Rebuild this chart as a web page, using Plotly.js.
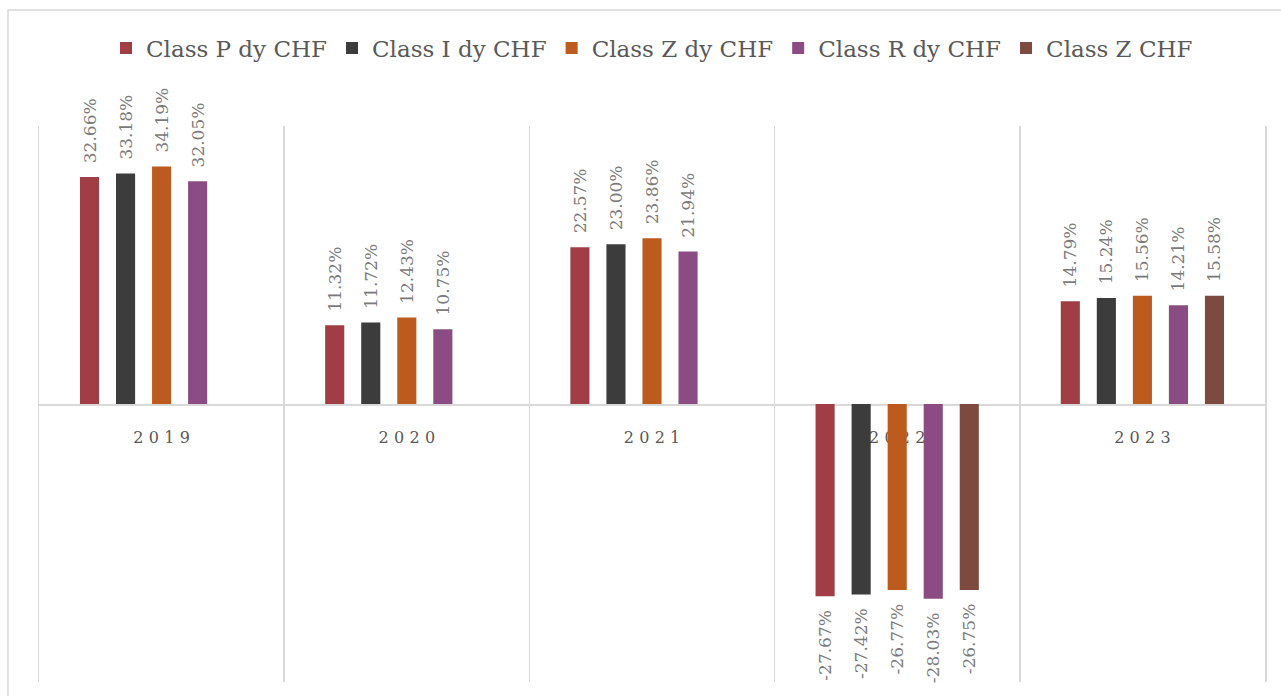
<!DOCTYPE html>
<html>
<head>
<meta charset="utf-8">
<script src="https://cdn.plot.ly/plotly-3.0.1.min.js"></script>
<style>html,body{margin:0;padding:0;background:#fff;}#chart{width:1281px;height:696px;}</style>
</head>
<body>
<div id="chart"></div>
<script>
const years = ["2019", "2020", "2021", "2022", "2023"];
const seriesNames = ["Class P dy CHF", "Class I dy CHF", "Class Z dy CHF", "Class R dy CHF", "Class Z CHF"];
const classP = [32.66, 11.32, 22.57, -27.67, 14.79];
const classI = [33.18, 11.72, 23.00, -27.42, 15.24];
const classZ = [34.19, 12.43, 23.86, -26.77, 15.56];
const classR = [32.05, 10.75, 21.94, -28.03, 14.21];
const classZCHF = [null, null, null, -26.75, 15.58];
const colors = ["#A13D45", "#3C3C3C", "#BD5A1E", "#8B4C84", "#7D4A40"];

const FONT = "DejaVu Serif";
const allSeries = [classP, classI, classZ, classR, classZCHF];

function labels(vals) {
  return vals.map(v => {
    if (v === null) return "";
    const s = v.toFixed(2) + "%";
    return v >= 0 ? "\u00a0\u00a0" + s : s + "\u00a0\u00a0";
  });
}

const traces = allSeries.map((vals, i) => ({
  type: "bar",
  name: seriesNames[i],
  x: years,
  y: vals,
  marker: {color: colors[i]},
  text: labels(vals),
  textposition: "outside",
  textangle: -90,
  constraintext: "none",
  cliponaxis: false,
  textfont: {family: FONT, size: 17, color: "#7a7a7a"},
  outsidetextfont: {family: FONT, size: 17, color: "#7a7a7a"},
  hoverinfo: "skip"
}));

const layout = {
  width: 1281,
  height: 696,
  margin: {l: 39, r: 16, t: 126, b: 14},
  paper_bgcolor: "#ffffff",
  plot_bgcolor: "rgba(0,0,0,0)",
  barmode: "group",
  bargap: 0.265,
  bargroupgap: 0.47,
  font: {family: FONT, color: "#595959"},
  showlegend: true,
  legend: {
    orientation: "h",
    x: 0.5, xanchor: "center",
    y: 1.14, yanchor: "middle",
    font: {family: FONT, size: 23, color: "#595959"},
    traceorder: "normal"
  },
  xaxis: {
    type: "category",
    anchor: "free",
    position: 0.5,
    tickson: "boundaries",
    showgrid: true,
    gridcolor: "#d9d9d9",
    gridwidth: 1.5,
    showline: true,
    linecolor: "#d9d9d9",
    linewidth: 1.5,
    ticks: "",
    tickvals: years,
    ticktext: years.map(y => y.split("").join("\u2004")),
    tickfont: {family: FONT, size: 16, color: "#595959"},
    ticklabelstandoff: 18,
    layer: "below traces",
    fixedrange: true
  },
  yaxis: {
    range: [-40, 40],
    showgrid: false,
    zeroline: false,
    showticklabels: false,
    ticks: "",
    showline: true,
    mirror: true,
    linecolor: "#d9d9d9",
    linewidth: 1.5,
    fixedrange: true
  },
  shapes: [{
    type: "rect",
    xref: "paper", yref: "paper",
    x0: -0.0253, x1: 1.05, y0: -0.1, y1: 1.2086,
    line: {color: "#d9d9d9", width: 1.5},
    layer: "below"
  }]
};

Plotly.newPlot("chart", traces, layout, {displayModeBar: false, staticPlot: true});
</script>
</body>
</html>
